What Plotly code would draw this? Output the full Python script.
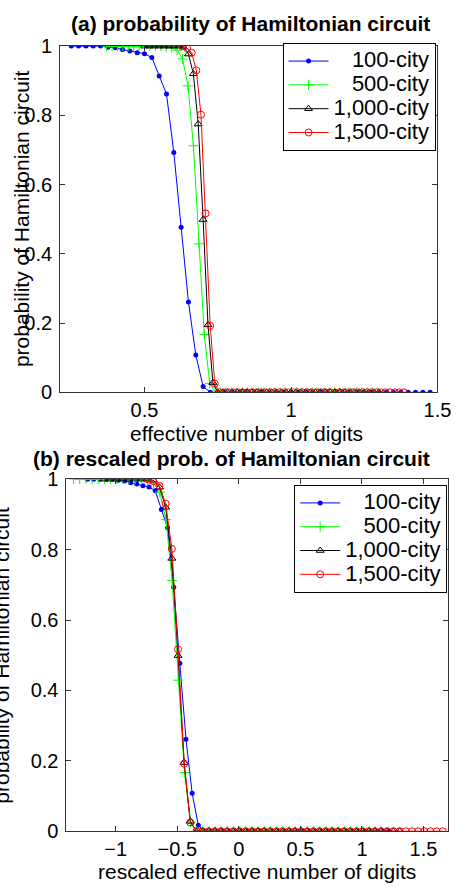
import plotly.graph_objects as go

# --- data --------------------------------------------------------------
series_names = ['   100-city', '   500-city', '1,000-city', '1,500-city']

# 100-city
blue_x_top = [0.25, 0.275, 0.3, 0.325, 0.35, 0.375, 0.4, 0.425, 0.45, 0.475,
              0.5, 0.525, 0.55, 0.575, 0.6, 0.625, 0.65, 0.675, 0.7, 0.725,
              0.75, 0.775, 0.8, 0.825, 0.85, 0.875, 0.9, 0.925, 0.95, 0.975,
              1.0, 1.025, 1.05, 1.075, 1.1, 1.125, 1.15, 1.175, 1.2, 1.225,
              1.25, 1.275, 1.3, 1.325, 1.35, 1.375, 1.4, 1.425, 1.45, 1.475]
blue_x_bot = [-1.229, -1.179, -1.129, -1.079, -1.029, -0.979, -0.929, -0.879, -0.829, -0.779,
              -0.729, -0.679, -0.629, -0.579, -0.529, -0.479, -0.429, -0.379, -0.329, -0.279,
              -0.229, -0.179, -0.129, -0.079, -0.029, 0.021, 0.071, 0.121, 0.171, 0.221,
              0.271, 0.321, 0.371, 0.421, 0.471, 0.521, 0.571, 0.621, 0.671, 0.721,
              0.771, 0.821, 0.871, 0.921, 0.971, 1.021, 1.071, 1.121, 1.171, 1.221]
blue_y = [1, 1, 1, 1, 1, 0.997, 0.995, 0.99, 0.986, 0.981,
          0.978, 0.967, 0.914, 0.862, 0.693, 0.477, 0.261, 0.108, 0.017, 0,
          0, 0, 0, 0, 0, 0, 0, 0, 0, 0,
          0, 0, 0, 0, 0, 0, 0, 0, 0, 0,
          0, 0, 0, 0, 0, 0, 0, 0, 0, 0]

# 500-city
green_x_top = [0.3705, 0.389, 0.4076, 0.4261, 0.4446, 0.4631, 0.4817, 0.5002, 0.5187, 0.5373,
               0.5558, 0.5743, 0.5928, 0.6114, 0.6299, 0.6484, 0.6669, 0.6855, 0.704, 0.7225,
               0.741, 0.7596, 0.7781, 0.7966, 0.8151, 0.8337, 0.8522, 0.8707, 0.8893, 0.9078,
               0.9263, 0.9448, 0.9634, 0.9819, 1.0004, 1.0189, 1.0375, 1.056, 1.0745, 1.093,
               1.1116, 1.1301, 1.1486, 1.1672, 1.1857, 1.2042, 1.2227, 1.2413, 1.2598, 1.2783,
               1.2968]
green_x_bot = [-1.342, -1.292, -1.242, -1.192, -1.142, -1.092, -1.042, -0.992, -0.942, -0.892,
               -0.842, -0.792, -0.742, -0.692, -0.642, -0.592, -0.542, -0.492, -0.442, -0.392,
               -0.342, -0.292, -0.242, -0.192, -0.142, -0.092, -0.042, 0.008, 0.058, 0.108,
               0.158, 0.208, 0.258, 0.308, 0.358, 0.408, 0.458, 0.508, 0.558, 0.608,
               0.658, 0.708, 0.758, 0.808, 0.858, 0.908, 0.958, 1.008, 1.058, 1.108,
               1.158]
green_y = [1, 1, 1, 1, 1, 1, 1, 1, 1, 1,
           1, 0.998, 0.995, 0.988, 0.963, 0.885, 0.712, 0.429, 0.167, 0.026,
           0, 0, 0, 0, 0, 0, 0, 0, 0, 0,
           0, 0, 0, 0, 0, 0, 0, 0, 0, 0,
           0, 0, 0, 0, 0, 0, 0, 0, 0, 0,
           0]

# 1,000-city
black_x_top = [0.5, 0.5167, 0.5333, 0.55, 0.5667, 0.5833, 0.6, 0.6167, 0.6333, 0.65,
               0.6667, 0.6833, 0.7, 0.7167, 0.7333, 0.75, 0.7667, 0.7833, 0.8, 0.8167,
               0.8333, 0.85, 0.8667, 0.8833, 0.9, 0.9167, 0.9333, 0.95, 0.9667, 0.9833,
               1.0, 1.0167, 1.0333, 1.05, 1.0667, 1.0833, 1.1, 1.1167, 1.1333, 1.15,
               1.1667, 1.1833, 1.2, 1.2167, 1.2333, 1.25, 1.2667, 1.2833, 1.3]
black_x_bot = [-1.094, -1.044, -0.994, -0.944, -0.894, -0.844, -0.794, -0.744, -0.694, -0.644,
               -0.594, -0.544, -0.494, -0.444, -0.394, -0.344, -0.294, -0.244, -0.194, -0.144,
               -0.094, -0.044, 0.006, 0.056, 0.106, 0.156, 0.206, 0.256, 0.306, 0.356,
               0.406, 0.456, 0.506, 0.556, 0.606, 0.656, 0.706, 0.756, 0.806, 0.856,
               0.906, 0.956, 1.006, 1.056, 1.106, 1.156, 1.206, 1.256, 1.306]
black_y = [1, 1, 1, 1, 1, 1, 1, 1, 0.997, 0.977,
           0.92, 0.775, 0.499, 0.195, 0.028, 0, 0, 0, 0, 0,
           0, 0, 0, 0, 0, 0, 0, 0, 0, 0,
           0, 0, 0, 0, 0, 0, 0, 0, 0, 0,
           0, 0, 0, 0, 0, 0, 0, 0, 0]

# 1,500-city
red_x_top = [0.6297, 0.6454, 0.6612, 0.6769, 0.6927, 0.7084, 0.7242, 0.7399, 0.7556, 0.7714,
             0.7871, 0.8029, 0.8186, 0.8344, 0.8501, 0.8658, 0.8816, 0.8973, 0.9131, 0.9288,
             0.9446, 0.9603, 0.976, 0.9918, 1.0075, 1.0233, 1.039, 1.0548, 1.0705, 1.0862,
             1.102, 1.1177, 1.1335, 1.1492, 1.1649, 1.1807, 1.1964, 1.2122, 1.2279, 1.2437,
             1.2594, 1.2751, 1.2909, 1.3066, 1.3224, 1.3381, 1.3539, 1.3696, 1.3853]
red_x_bot = [-0.744, -0.694, -0.644, -0.594, -0.544, -0.494, -0.444, -0.394, -0.344, -0.294,
             -0.244, -0.194, -0.144, -0.094, -0.044, 0.006, 0.056, 0.106, 0.156, 0.206,
             0.256, 0.306, 0.356, 0.406, 0.456, 0.506, 0.556, 0.606, 0.656, 0.706,
             0.756, 0.806, 0.856, 0.906, 0.956, 1.006, 1.056, 1.106, 1.156, 1.206,
             1.256, 1.306, 1.356, 1.406, 1.456, 1.506, 1.556, 1.606, 1.656]
red_y = [1.0, 0.994, 0.981, 0.93, 0.802, 0.517, 0.192, 0.025, 0, 0,
         0, 0, 0, 0, 0, 0, 0, 0, 0, 0,
         0, 0, 0, 0, 0, 0, 0, 0, 0, 0,
         0, 0, 0, 0, 0, 0, 0, 0, 0, 0,
         0, 0, 0, 0, 0, 0, 0, 0, 0]

# --- figure -------------------------------------------------------------
W, H = 467, 892
FONT = 'Liberation Sans, Arial, Helvetica, sans-serif'
AXC = '#333333'

styles = [
    dict(color='#0000ff', symbol='circle', size=5, lw=0),
    dict(color='#00ff00', symbol='cross-thin-open', size=7, lw=1),
    dict(color='#000000', symbol='triangle-up-open', size=7, lw=1),
    dict(color='#ff0000', symbol='circle-open', size=7, lw=1),
]

fig = go.Figure()

top_sets = [(blue_x_top, blue_y), (green_x_top, green_y), (black_x_top, black_y), (red_x_top, red_y)]
bot_sets = [(blue_x_bot, blue_y), (green_x_bot, green_y), (black_x_bot, black_y), (red_x_bot, red_y)]

# bigger legend text than the legend font, so rows stay tight like the original
def legend_label(name):
    return '<span style="font-size:22px">' + name + '</span>'

for (xs, ys), name, st in zip(top_sets, series_names, styles):
    fig.add_trace(go.Scatter(
        x=xs, y=ys, mode='lines+markers', name=legend_label(name),
        line=dict(color=st['color'], width=1),
        marker=dict(color=st['color'], symbol=st['symbol'], size=st['size'],
                    line=dict(color=st['color'], width=st['lw'])),
        xaxis='x', yaxis='y', legend='legend'
    ))

for (xs, ys), name, st in zip(bot_sets, series_names, styles):
    fig.add_trace(go.Scatter(
        x=xs, y=ys, mode='lines+markers', name=legend_label(name),
        line=dict(color=st['color'], width=1),
        marker=dict(color=st['color'], symbol=st['symbol'], size=st['size'],
                    line=dict(color=st['color'], width=st['lw'])),
        xaxis='x2', yaxis='y2', legend='legend2'
    ))


def axis_style(**kw):
    d = dict(showline=True, linecolor=AXC, linewidth=1, mirror='allticks',
             ticks='inside', ticklen=5, tickcolor=AXC, tickwidth=1,
             showgrid=False, zeroline=False, ticklabelstandoff=0,
             tickfont=dict(family=FONT, size=20, color='black'))
    d.update(kw)
    return d


legend_style = dict(
    xanchor='right', yanchor='top',
    bgcolor='white', bordercolor='black', borderwidth=1,
    font=dict(family=FONT, size=16, color='black'),
    itemwidth=40, tracegroupgap=0,
)

fig.update_layout(
    width=W, height=H,
    margin=dict(l=0, r=0, t=0, b=0),
    paper_bgcolor='white', plot_bgcolor='white',
    font=dict(family=FONT, color='black'),
    xaxis=axis_style(domain=[62 / W, 451 / W], range=[0.212, 1.5], dtick=0.5, tick0=0, anchor='y'),
    yaxis=axis_style(domain=[1 - 391 / H, 1 - 36 / H], range=[0, 1], dtick=0.2, anchor='x',
                     ticklabelstandoff=3),
    xaxis2=axis_style(domain=[68.5 / W, 462 / W], range=[-1.4, 1.7], dtick=0.5, tick0=0, anchor='y2'),
    yaxis2=axis_style(domain=[1 - 841 / H, 1 - 480 / H], range=[0, 1], dtick=0.2, anchor='x2',
                      ticklabelstandoff=3),
    legend=dict(legend_style, x=449 / W, y=1 - 33 / H),
    legend2=dict(legend_style, x=461 / W, y=1 - 486 / H),
    showlegend=True,
)

annots = [
    dict(text='<b>(a) probability of Hamiltonian circuit</b>', x=258 / W, y=1 - 13 / H, angle=0),
    dict(text='<b>(b) rescaled prob. of Hamiltonian circuit</b>', x=239 / W, y=1 - 459 / H, angle=0),
    dict(text='effective number of digits', x=254 / W, y=1 - 433 / H, angle=0),
    dict(text='rescaled effective number of digits', x=265 / W, y=1 - 882 / H, angle=0),
    dict(text='probability of Hamiltonian circuit', x=22 / W, y=1 - 213 / H, angle=-90),
    dict(text='probability of Hamiltonian circuit', x=2 / W, y=1 - 660 / H, angle=-90),
]
for a in annots:
    fig.add_annotation(text=a['text'], x=a['x'], y=a['y'], xref='paper', yref='paper',
                       xanchor='center', yanchor='middle', showarrow=False, textangle=a['angle'],
                       font=dict(family=FONT, size=21, color='black'))

fig.write_html("out.html", config={'displayModeBar': False},
               post_script="document.body.style.margin='0';document.body.style.overflow='hidden';")
